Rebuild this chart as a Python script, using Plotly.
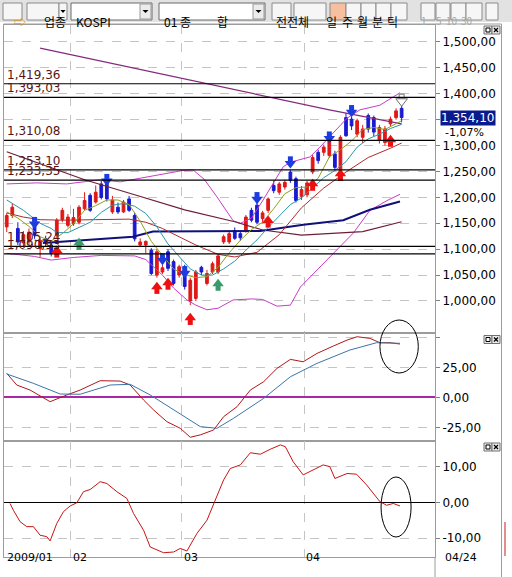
import plotly.graph_objects as go
from plotly.subplots import make_subplots

# --- trading days on screen (2009) ---
JAN_DAYS = [13, 14, 15, 16, 19, 20, 21, 22, 23, 28, 29, 30]
FEB_DAYS = [2, 3, 4, 5, 6, 9, 10, 11, 12, 13, 16, 17, 18, 19, 20, 23, 24, 25, 26, 27]
MAR_DAYS = [2, 3, 4, 5, 6, 9, 10, 11, 12, 13, 16, 17, 18, 19, 20, 23, 24, 25, 26, 27, 30, 31]
APR_DAYS = [1, 2, 3, 6, 7, 8, 9, 10, 13, 14, 15, 16, 17, 20, 21, 22, 23, 24]
MONTH_LABELS = ["2009/01", "02", "03", "04"]
LAST_LABEL = "04/24"

# --- KOSPI daily OHLC ---
OPEN = [1143, 1165, 1140, 1112, 1114, 1146, 1101, 1120, 1108, 1127, 1157, 1146,
        1149, 1152, 1178, 1204, 1191, 1226, 1233, 1172, 1181, 1172, 1197, 1165,
        1108, 1108, 1098, 1050, 1056, 1095, 1076, 1050, 1066, 1000, 1005, 1065,
        1034, 1056, 1056, 1114, 1114, 1136, 1130, 1136, 1175, 1185, 1159, 1175,
        1223, 1210, 1220, 1249, 1236, 1202, 1205, 1249, 1287, 1287, 1281, 1284,
        1252, 1354, 1351, 1322, 1316, 1358, 1354, 1310, 1306, 1342, 1354, 1372]
HIGH = [1170, 1188, 1152, 1135, 1140, 1150, 1121, 1126, 1114, 1160, 1180, 1168,
        1178, 1185, 1210, 1208, 1223, 1232, 1240, 1203, 1190, 1195, 1203, 1170,
        1121, 1117, 1102, 1100, 1070, 1100, 1080, 1070, 1070, 1045, 1060, 1068,
        1060, 1076, 1090, 1128, 1135, 1142, 1134, 1166, 1180, 1190, 1174, 1200,
        1232, 1230, 1234, 1253, 1240, 1222, 1232, 1282, 1292, 1302, 1322, 1290,
        1320, 1363, 1356, 1352, 1340, 1362, 1358, 1340, 1338, 1356, 1372, 1380]
LOW = [1133, 1160, 1108, 1105, 1108, 1120, 1085, 1105, 1086, 1120, 1152, 1142,
       1145, 1148, 1175, 1172, 1188, 1196, 1192, 1168, 1168, 1170, 1172, 1115,
       1104, 1092, 1050, 1045, 1052, 1058, 1030, 1045, 1022, 992, 1000, 1050,
       1030, 1052, 1052, 1110, 1110, 1118, 1116, 1132, 1152, 1148, 1150, 1170,
       1208, 1205, 1215, 1228, 1190, 1195, 1200, 1245, 1265, 1280, 1276, 1252,
       1248, 1317, 1330, 1316, 1305, 1325, 1318, 1304, 1300, 1338, 1350, 1345]
CLOSE = [1165, 1181, 1114, 1128, 1133, 1127, 1117, 1112, 1092, 1156, 1175, 1162,
         1161, 1181, 1194, 1175, 1210, 1200, 1197, 1195, 1172, 1191, 1175, 1120,
         1114, 1115, 1053, 1095, 1064, 1063, 1034, 1066, 1028, 1040, 1056, 1056,
         1053, 1072, 1087, 1124, 1130, 1121, 1122, 1162, 1156, 1152, 1170, 1197,
         1213, 1226, 1229, 1233, 1194, 1215, 1228, 1277, 1271, 1297, 1316, 1258,
         1316, 1319, 1338, 1348, 1332, 1332, 1326, 1335, 1332, 1351, 1367, 1354.10]
LAST_CHANGE = "-1,07%"

# --- horizontal price levels (label text as shown) ---
LEVELS = [1419.36, 1393.03, 1310.08, 1253.10, 1233.35, 1105.24, 1090.93]

# --- moving averages / bands: (candle index, value) ---
MA5_X = [0, 2, 4, 6, 8, 10, 12, 14, 16, 18, 20, 22, 24, 26, 28, 30, 32, 34, 36,
         38, 40, 42, 44, 46, 48, 50, 52, 54, 56, 58, 60, 62, 64, 66, 68, 70, 71]
MA5_Y = [1172, 1160, 1144, 1124, 1116, 1130, 1149, 1175, 1184, 1195, 1195, 1186,
         1154, 1115, 1088, 1062, 1051, 1045, 1047, 1065, 1093, 1117, 1138, 1152,
         1178, 1207, 1219, 1220, 1237, 1278, 1292, 1309, 1331, 1335, 1331, 1342, 1348]
MA10_X = [0, 3, 6, 8, 9, 11, 13, 15, 17, 19, 21, 23, 25, 27, 29, 31, 33, 35, 37,
          39, 41, 43, 45, 47, 49, 51, 53, 55, 57, 59, 61, 63, 65, 67, 69, 71]
MA10_Y = [1195, 1175, 1150, 1140, 1132, 1132, 1142, 1152, 1171, 1185, 1188, 1183,
          1169, 1143, 1110, 1085, 1062, 1050, 1050, 1062, 1077, 1098, 1118, 1142,
          1165, 1186, 1199, 1218, 1238, 1252, 1269, 1297, 1313, 1322, 1333, 1341]
MA20_X = [0, 3, 6, 10, 16, 22, 25, 28, 31, 34, 38, 41, 45, 49, 53, 57, 61, 65, 69, 71]
MA20_Y = [1170, 1162, 1157, 1156, 1157, 1158, 1152, 1140, 1124, 1108, 1090, 1085,
          1094, 1128, 1180, 1218, 1249, 1277, 1295, 1305]
MA60_X = [0, 10, 14, 23, 32, 41, 46, 53, 64, 71]
MA60_Y = [1288, 1249, 1234, 1205, 1176, 1153, 1137, 1127, 1134, 1153]
MA120_X = [6, 20, 34, 46, 58, 71]
MA120_Y = [1488, 1456, 1424, 1397, 1369, 1342]
NAVY_X = [6.5, 15, 22.7, 26.3, 35, 45.6, 53.3, 60.5, 65.3, 70.7]
NAVY_Y = [1112, 1118, 1124, 1134, 1135, 1135, 1147, 1156, 1176, 1192]
BB_UP_X = [0, 5.4, 10.8, 16.8, 20.4, 24, 28.5, 31.7, 33.5, 35.5, 37.8, 40.7, 42,
           44, 46.1, 49.7, 51, 54.5, 56.3, 58.7, 61.2, 63.5, 67.1, 69.5, 70.7]
BB_UP_Y = [1226, 1228, 1226, 1234, 1230, 1237, 1247, 1252, 1253, 1235, 1201, 1155,
           1150, 1160, 1195, 1259, 1268, 1278, 1297, 1324, 1353, 1369, 1378, 1394, 1402]
BB_LO_X = [0, 5, 8, 12, 17, 21, 23, 25, 28, 30, 32.4, 34, 36, 38, 40.7, 44, 46,
           48.6, 51, 52.8, 57.6, 62.3, 65.3, 68.4, 70.7]
BB_LO_Y = [1092, 1086, 1079, 1084, 1088, 1088, 1087, 1080, 1050, 1025, 1002, 992,
           983, 986, 1002, 1004, 1003, 990, 992, 1027, 1079, 1131, 1175, 1194, 1206]

# --- signal arrows ---
SELL_IDX = [5, 18, 28, 32, 45, 51, 58, 62]
SELL_Y = [1153, 1236, 1083, 1058, 1201, 1270, 1318, 1369]
BUY_IDX = [9, 27, 29, 33, 47, 55, 60, 69]
BUY_Y = [1093, 1023, 1031, 963, 1151, 1222, 1241, 1307]
GREEN_IDX = [13, 38]
GREEN_Y = [1108, 1029]
HOLLOW_IDX = [71]
HOLLOW_Y = [1390]

# --- MACD panel ---
MACD_X = [0, 1.8, 4.2, 7.8, 10.8, 13.2, 16.8, 20.4, 22.2, 24.6, 26.4, 28.8, 31.2,
          33, 34.8, 37.2, 39, 41.4, 43.8, 46.2, 48.6, 51, 53.3, 55.8, 58.7, 61.2,
          63, 65.3, 67.1, 68.9, 70.7]
MACD_Y = [20.2, 10.4, 6.2, -3.5, 2.1, 6.2, 14.0, 13.7, 10.4, -2.1, -10.4, -20.2,
          -25.7, -33.2, -31.2, -27.1, -16.0, -7.7, 6.2, 13.2, 24.3, 31.8, 29.8, 36.8,
          42.9, 47.9, 50.7, 49.3, 45.7, 45.7, 44.6]
SIG_X = [0, 4.8, 9.6, 13.2, 18.6, 22.2, 25.8, 30, 34.8, 37.8, 40.8, 46.2, 51,
         55.8, 61.7, 66.5, 70.7]
SIG_Y = [19.6, 11.8, 2.9, 2.7, 10.4, 11.0, 2.1, -10.4, -24.3, -25.7, -17.3, -0.7,
         17.3, 28.5, 39.6, 45.7, 45.2]

# --- oscillator panel ---
OSC_X = [0.6, 1.2, 2.4, 3.6, 4.8, 6.0, 7.2, 7.8, 9.0, 10.2, 11.4, 12.6, 13.8, 15.0,
         16.8, 18.0, 19.8, 21.6, 22.8, 24.6, 25.8, 27.0, 28.2, 30.0, 31.2, 32.4,
         34.2, 36.0, 37.8, 39.0, 40.2, 42.0, 43.8, 45.6, 47.4, 49.2, 50.1, 51.5,
         53.3, 55.1, 56.9, 58.1, 59.0, 61.2, 62.9, 64.7, 67.1, 68.3, 69.5, 70.7]
OSC_Y = [-0.3, -2.2, -5.4, -6.8, -6.8, -9.2, -9.6, -10.8, -5.9, -2.6, -1.0, -0.1,
         3.0, 3.6, 5.8, 5.3, 3.0, 1.1, -3.1, -7.8, -12.5, -13.4, -14.1, -13.9, -12.9,
         -13.6, -8.7, -5.0, 1.6, 6.3, 9.5, 10.5, 13.9, 13.5, 14.9, 16.1, 15.6, 11.4,
         7.7, 9.1, 10.5, 10.0, 6.7, 8.1, 7.9, 4.9, 0.2, -0.8, -0.3, -1.0]

Y_MAIN = [938.2, 1532.8]
Y_MACD = [-36.3, 53.8]
Y_OSC = [-15.3, 17.2]

NUM_FONT = "DejaVu Sans"
KR_FONT = "Noto Sans CJK KR"
GRID = "#c4c4c4"
BORDER = "#9c9c9c"


def fmt(v):
    return f"{v:,.2f}".replace(".", ",")


def xp(p):
    # pixel -> paper x
    return (p - 4) / 431


def yp(p):
    # pixel -> paper y
    return (557 - p) / 532


def tri_down(cx, cy, w=3):
    # small dropdown triangle as an svg path in paper coords
    return (f"M {xp(cx - w)} {yp(cy - 1.5)} L {xp(cx + w)} {yp(cy - 1.5)} "
            f"L {xp(cx)} {yp(cy + 1.5)} Z")


DATES = ([f"2009-01-{d:02d}" for d in JAN_DAYS] + [f"2009-02-{d:02d}" for d in FEB_DAYS]
         + [f"2009-03-{d:02d}" for d in MAR_DAYS] + [f"2009-04-{d:02d}" for d in APR_DAYS])
IDX = list(range(len(DATES)))
month_first = [i for i in range(1, len(DATES)) if DATES[i][5:7] != DATES[i - 1][5:7]]
GRID_X = [m - 0.5 for m in month_first]
X_RANGE = [-0.49, 77.0]
PX = (Y_MAIN[1] - Y_MAIN[0]) / 308

fig = make_subplots(rows=3, cols=1, shared_xaxes=True, vertical_spacing=0,
                    row_heights=[308, 108, 116])


# --- overlays behind candles ---
def add_line(x, y, color, width=1, row=1):
    fig.add_trace(go.Scatter(x=x, y=y, mode="lines", line=dict(color=color, width=width),
                             hoverinfo="skip"), row=row, col=1)


add_line(BB_UP_X, BB_UP_Y, "#c83cc8")
add_line(BB_LO_X, BB_LO_Y, "#c83cc8")
add_line(MA120_X, MA120_Y, "#842a7c", 1.2)
add_line(MA60_X, MA60_Y, "#6e1e34", 1.2)
add_line(NAVY_X, NAVY_Y, "#101078", 2)
add_line(MA20_X, MA20_Y, "#b02a2a", 1)
add_line(MA10_X, MA10_Y, "#2c96a8", 1)
add_line(MA5_X, MA5_Y, "#8ea020", 1)

for lv in LEVELS:
    fig.add_hline(y=lv, line=dict(color="#000000", width=1.2), row=1, col=1)
    fig.add_annotation(x=0, xref="paper", xanchor="left", xshift=1, y=lv, yref="y",
                       yanchor="bottom", text=fmt(lv), showarrow=False,
                       font=dict(family=NUM_FONT, size=12, color="#5a1414"))

fig.add_trace(go.Candlestick(
    x=IDX, open=OPEN, high=HIGH, low=LOW, close=CLOSE,
    increasing=dict(line=dict(color="#e01818", width=1), fillcolor="#e01818"),
    decreasing=dict(line=dict(color="#1a1ad2", width=1), fillcolor="#1a1ad2"),
    whiskerwidth=0, hoverinfo="skip"), row=1, col=1)


def add_arrows(idx, vals, color, down, line_color=None):
    off = 2.3 * PX
    head = [v - off if down else v + off for v in vals]
    shaft = [v + off if down else v - off for v in vals]
    mline = dict(color=line_color or color, width=1 if line_color else 0)
    fig.add_trace(go.Scatter(x=idx, y=shaft, mode="markers", hoverinfo="skip",
                             marker=dict(symbol="square", size=5, color=color, line=mline)),
                  row=1, col=1)
    fig.add_trace(go.Scatter(x=idx, y=head, mode="markers", hoverinfo="skip",
                             marker=dict(symbol="triangle-down" if down else "triangle-up",
                                         size=10, color=color, line=mline)),
                  row=1, col=1)


add_arrows(SELL_IDX, SELL_Y, "#1c3ce0", True)
add_arrows(BUY_IDX, BUY_Y, "#ee1010", False)
add_arrows(GREEN_IDX, GREEN_Y, "#3a9a6a", False)
add_arrows(HOLLOW_IDX, HOLLOW_Y, "#ffffff", True, line_color="#707070")

# --- MACD ---
add_line(MACD_X, MACD_Y, "#b01818", 1, row=2)
add_line(SIG_X, SIG_Y, "#3c74a8", 1, row=2)
# --- oscillator ---
add_line(OSC_X, OSC_Y, "#c81414", 1, row=3)

# --- axes ---
fig.update_xaxes(range=X_RANGE, tickvals=GRID_X, showticklabels=False, ticks="",
                 showgrid=True, gridcolor=GRID, griddash="dash", zeroline=False,
                 showline=True, mirror=True, linecolor=BORDER, rangeslider_visible=False)

ax_common = dict(side="right", showgrid=True, gridcolor=GRID, griddash="dash",
                 showline=True, mirror=True, linecolor=BORDER, ticks="outside",
                 ticklen=4, tickcolor="#808080",
                 tickfont=dict(family=NUM_FONT, size=12, color="#000000"))
main_ticks = list(range(1000, 1501, 50))
# the 1,350 label sits under the last-price box
main_text = ["" if v == 1350 else fmt(v) for v in main_ticks]
fig.update_yaxes(range=Y_MAIN, tickvals=main_ticks, ticktext=main_text,
                 zeroline=False, row=1, col=1, **ax_common)
fig.update_yaxes(range=Y_MACD, tickvals=[-25, 0, 25, 50],
                 ticktext=[fmt(-25), fmt(0), fmt(25), ""],
                 zeroline=True, zerolinecolor="#a828a8", zerolinewidth=1.5,
                 row=2, col=1, **ax_common)
fig.update_yaxes(range=Y_OSC, tickvals=[-10, 0, 10],
                 ticktext=[fmt(-10), fmt(0), fmt(10)],
                 zeroline=True, zerolinecolor="#000000", zerolinewidth=1.2,
                 row=3, col=1, **ax_common)

# --- last price box ---
fig.add_annotation(x=1, xref="paper", xanchor="left", xshift=5, y=CLOSE[-1], yref="y",
                   text=fmt(CLOSE[-1]), showarrow=False, bgcolor="#0a1a8c",
                   width=54, align="left", borderpad=0,
                   font=dict(family=NUM_FONT, size=12, color="#ffffff"))
fig.add_annotation(x=1, xref="paper", xanchor="left", xshift=8, y=CLOSE[-1], yref="y",
                   yshift=-15, text=LAST_CHANGE, showarrow=False,
                   font=dict(family=NUM_FONT, size=11, color="#000000"))

# --- x labels ---
fig.add_annotation(x=0, xref="paper", xanchor="left", xshift=1, y=yp(566), yref="paper",
                   text=MONTH_LABELS[0], showarrow=False,
                   font=dict(family=NUM_FONT, size=11, color="#000000"))
for gx, lab in zip(GRID_X, MONTH_LABELS[1:]):
    fig.add_annotation(x=gx, xref="x3", xanchor="left", xshift=0, y=yp(566), yref="paper",
                       text=lab, showarrow=False,
                       font=dict(family=NUM_FONT, size=11, color="#000000"))
fig.add_annotation(x=xp(443), xref="paper", xanchor="left", y=yp(566), yref="paper",
                   text=LAST_LABEL, showarrow=False,
                   font=dict(family=NUM_FONT, size=11, color="#000000"))

shapes = []
# ellipses around the latest bars
shapes.append(dict(type="circle", xref="x", yref="paper", x0=67.1, x1=74.0,
                   y0=yp(373), y1=yp(320), line=dict(color="#000000", width=1)))
shapes.append(dict(type="circle", xref="x", yref="paper", x0=67.3, x1=72.7,
                   y0=yp(537), y1=yp(477), line=dict(color="#000000", width=1)))
# frame pieces outside the plot area
shapes.append(dict(type="line", xref="paper", yref="paper", x0=xp(501.5), x1=xp(501.5),
                   y0=yp(577), y1=yp(24), line=dict(color=BORDER, width=1)))
shapes.append(dict(type="line", xref="paper", yref="paper", x0=1, x1=1,
                   y0=yp(577), y1=yp(557), line=dict(color=BORDER, width=1)))
shapes.append(dict(type="line", xref="paper", yref="paper", x0=xp(3.5), x1=xp(501.5),
                   y0=yp(24), y1=yp(24), line=dict(color=BORDER, width=1)))
shapes.append(dict(type="line", xref="paper", yref="paper", x0=xp(505), x1=xp(505),
                   y0=yp(556), y1=yp(522), line=dict(color="#c02020", width=1)))

# toolbar
shapes.append(dict(type="rect", xref="paper", yref="paper", x0=xp(0), x1=xp(512),
                   y0=yp(22), y1=yp(0), fillcolor="#e2e2e2", line=dict(width=0)))
BUTTONS = [(3, 22, "⇨", "icon"), (27, 59, "업종", "btn"), (59, 67, "", "drop"),
           (272, 291, "전", "btn"), (294, 326, "전체", "btn"), (330, 346, "일", "sel"),
           (346, 361, "주", "btn"), (361, 376, "월", "btn"), (376, 391, "분", "btn"),
           (391, 407, "틱", "btn"), (421, 435, "1", "dis"), (436, 450, "5", "dis"),
           (451, 466, "10", "dis"), (466, 482, "30", "dis"), (486, 498, "", "btn")]
for x0, x1, label, kind in BUTTONS:
    fill = {"sel": "#f6bfa0", "icon": "#f6f6f6"}.get(kind, "#f6f6f6")
    shapes.append(dict(type="rect", xref="paper", yref="paper", x0=xp(x0), x1=xp(x1),
                       y0=yp(20), y1=yp(3), fillcolor=fill,
                       line=dict(color="#8a8a8a", width=1)))
    if kind == "drop":
        shapes.append(dict(type="path", xref="paper", yref="paper",
                           path=tri_down((x0 + x1) / 2, 11.5, 2.5), fillcolor="#000000",
                           line=dict(width=0)))
    if label:
        color = {"dis": "#a8a8a8", "icon": "#e08a00"}.get(kind, "#000000")
        size = 10 if kind == "dis" else 12
        fig.add_annotation(x=xp((x0 + x1) / 2), xref="paper", y=yp(11.5), yref="paper",
                           text=label, showarrow=False, borderpad=0,
                           font=dict(family=KR_FONT, size=size, color=color))
FIELDS = [(71, 152, "KOSPI", 75), (159, 265, "01 종", 163)]
for x0, x1, label, tx in FIELDS:
    shapes.append(dict(type="rect", xref="paper", yref="paper", x0=xp(x0), x1=xp(x1),
                       y0=yp(20), y1=yp(3), fillcolor="#ffffff",
                       line=dict(color="#6a6a6a", width=1)))
    shapes.append(dict(type="rect", xref="paper", yref="paper", x0=xp(x1 - 12), x1=xp(x1 - 1),
                       y0=yp(19), y1=yp(4), fillcolor="#ececec",
                       line=dict(color="#9a9a9a", width=1)))
    shapes.append(dict(type="path", xref="paper", yref="paper",
                       path=tri_down(x1 - 6.5, 11.5, 3), fillcolor="#000000",
                       line=dict(width=0)))
    fig.add_annotation(x=xp(tx), xref="paper", xanchor="left", y=yp(11.5), yref="paper",
                       text=label, showarrow=False, borderpad=0,
                       font=dict(family=KR_FONT, size=12, color="#000000"))
fig.add_annotation(x=xp(222), xref="paper", y=yp(11.5), yref="paper", text="합",
                   showarrow=False, borderpad=0,
                   font=dict(family=KR_FONT, size=12, color="#000000"))

# small restore / close buttons at each panel's top right, drawn as shapes
for cy in [30, 339.5, 447]:
    for cx in [488, 496]:
        shapes.append(dict(type="rect", xref="paper", yref="paper", x0=xp(cx - 4),
                           x1=xp(cx + 4), y0=yp(cy + 4), y1=yp(cy - 4),
                           fillcolor="#ececec", line=dict(color="#707070", width=1)))
    shapes.append(dict(type="rect", xref="paper", yref="paper", x0=xp(486), x1=xp(490),
                       y0=yp(cy + 2), y1=yp(cy - 2), fillcolor="#ffffff",
                       line=dict(color="#000000", width=1)))
    for a, b in [(-2, 2), (2, -2)]:
        shapes.append(dict(type="line", xref="paper", yref="paper", x0=xp(494), x1=xp(498),
                           y0=yp(cy + a), y1=yp(cy + b), line=dict(color="#000000", width=1.2)))

fig.update_layout(
    shapes=list(fig.layout.shapes) + shapes,
    width=512, height=577,
    margin=dict(l=4, r=77, t=25, b=20),
    paper_bgcolor="#ffffff", plot_bgcolor="#ffffff",
    showlegend=False,
    hovermode=False,
)

# page body margin would push the chart 8px off the window corner
fig.write_html("out.html", config={"displayModeBar": False},
               post_script="document.body.style.margin='0';")
